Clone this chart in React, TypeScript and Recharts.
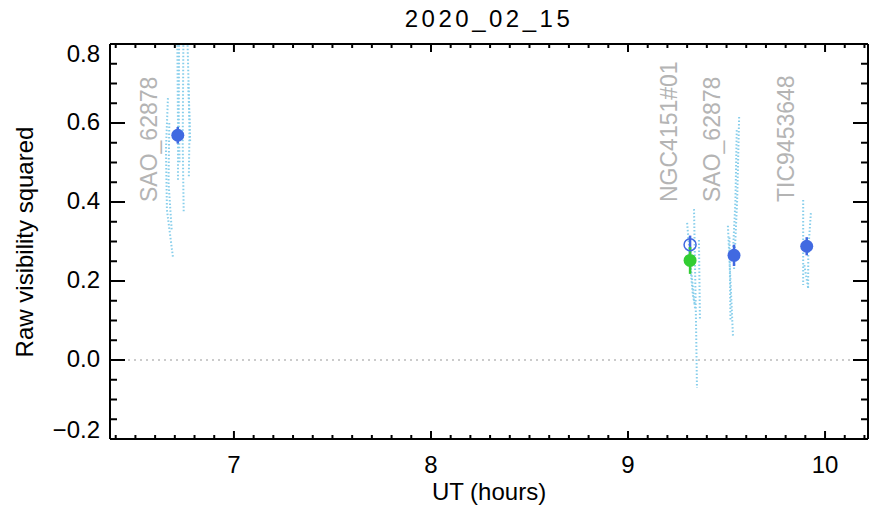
import { ComposedChart, XAxis, YAxis, Line, Scatter, ErrorBar, ReferenceLine } from "recharts";

// night of 2020_02_15, raw V^2 per observation block
const calibrators = [
  { x: 6.715, y: 0.569, err: 0.021 },
  { x: 9.538, y: 0.265, err: 0.027 },
  { x: 9.907, y: 0.288, err: 0.023 },
];
const targetRaw = [{ x: 9.315, y: 0.292, err: 0.023 }];
const targetCal = [{ x: 9.315, y: 0.252, err: 0.034 }];

const starNames = [
  { x: 6.61, y: 0.4, name: "SAO_62878" },
  { x: 9.249, y: 0.4, name: "NGC4151#01" },
  { x: 9.467, y: 0.4, name: "SAO_62878" },
  { x: 9.843, y: 0.4, name: "TIC9453648" },
];

// per-frame V^2 traces (dotted)
const frameTraces = [
  [{ x: 6.665, y: 0.663 }, { x: 6.655, y: 0.532 }, { x: 6.66, y: 0.38 }, { x: 6.691, y: 0.258 }],
  [{ x: 6.672, y: 0.6 }, { x: 6.668, y: 0.45 }, { x: 6.684, y: 0.33 }],
  [{ x: 6.712, y: 0.85 }, { x: 6.716, y: 0.6 }, { x: 6.716, y: 0.455 }],
  [{ x: 6.722, y: 0.85 }, { x: 6.72, y: 0.62 }, { x: 6.724, y: 0.5 }],
  [{ x: 6.744, y: 0.85 }, { x: 6.74, y: 0.55 }, { x: 6.745, y: 0.375 }],
  [{ x: 6.762, y: 0.85 }, { x: 6.775, y: 0.6 }, { x: 6.771, y: 0.46 }],
  [{ x: 6.768, y: 0.7 }, { x: 6.778, y: 0.55 }],
  [{ x: 9.335, y: 0.382 }, { x: 9.345, y: 0.1 }, { x: 9.35, y: -0.071 }],
  [{ x: 9.3, y: 0.347 }, { x: 9.318, y: 0.24 }, { x: 9.341, y: 0.127 }],
  [{ x: 9.36, y: 0.304 }, { x: 9.365, y: 0.101 }],
  [{ x: 9.31, y: 0.27 }, { x: 9.33, y: 0.16 }, { x: 9.34, y: 0.14 }],
  [{ x: 9.564, y: 0.615 }, { x: 9.554, y: 0.405 }, { x: 9.538, y: 0.228 }],
  [{ x: 9.552, y: 0.582 }, { x: 9.545, y: 0.4 }, { x: 9.533, y: 0.278 }],
  [{ x: 9.507, y: 0.34 }, { x: 9.52, y: 0.2 }, { x: 9.533, y: 0.058 }],
  [{ x: 9.515, y: 0.31 }, { x: 9.52, y: 0.1 }],
  [{ x: 9.889, y: 0.405 }, { x: 9.889, y: 0.19 }],
  [{ x: 9.928, y: 0.372 }, { x: 9.915, y: 0.278 }, { x: 9.914, y: 0.177 }],
  [{ x: 9.895, y: 0.24 }, { x: 9.915, y: 0.18 }],
];

const xMajor = [7, 8, 9, 10];
const yMajor = [-0.2, 0, 0.2, 0.4, 0.6, 0.8];
const xTicks = Array.from({ length: 39 }, (_, i) => +(6.4 + i * 0.1).toFixed(1));
const yTicks = Array.from({ length: 21 }, (_, i) => +(-0.2 + i * 0.05).toFixed(2));

const FONT = "'Liberation Sans', Arial, sans-serif";
const BLUE = "#4169e1";
const GREEN = "#32cd32";
const TRACE = "#87ceeb";

// plot box size, so the bottom/left ticks can mirror themselves on the top/right edge
const PLOT_W = 758;
const PLOT_H = 395;

const isMajorY = (v: number) => yMajor.some((m) => Math.abs(m - v) < 1e-6);
const fmtY = (v: number) => (v < 0 ? "\u2212" : "") + Math.abs(v).toFixed(1);

function BottomTick({ x, y, payload }: any) {
  const major = xMajor.includes(payload.value);
  const len = major ? 8 : 4;
  const top = y - PLOT_H;
  return (
    <g>
      <line x1={x} x2={x} y1={y} y2={y - len} stroke="#000" strokeWidth={2} />
      <line x1={x} x2={x} y1={top} y2={top + len} stroke="#000" strokeWidth={2} />
      {major && (
        <text x={x} y={y + 34} textAnchor="middle" fontFamily={FONT} fontSize={24} fill="#000">
          {payload.value}
        </text>
      )}
    </g>
  );
}

function LeftTick({ x, y, payload }: any) {
  const major = isMajorY(payload.value);
  const len = major ? 15 : 7;
  const right = x + PLOT_W;
  const ty = Math.min(438, Math.max(62, y + 7));
  return (
    <g>
      <line x1={x} x2={x + len} y1={y} y2={y} stroke="#000" strokeWidth={2} />
      <line x1={right} x2={right - len} y1={y} y2={y} stroke="#000" strokeWidth={2} />
      {major && (
        <text x={x - 10} y={ty} textAnchor="end" fontFamily={FONT} fontSize={24} fill="#000">
          {fmtY(payload.value)}
        </text>
      )}
    </g>
  );
}

const dotShape = (fill: string) => (p: any) => <circle cx={p.cx} cy={p.cy} r={6.5} fill={fill} />;
const ringShape = (p: any) => <circle cx={p.cx} cy={p.cy} r={6} fill="none" stroke={BLUE} strokeWidth={1.5} />;
const nameShape = (p: any) => (
  <text
    x={p.cx}
    y={p.cy}
    transform={`rotate(-90 ${p.cx} ${p.cy})`}
    fontFamily={FONT}
    fontSize={23}
    fill="#b4b4b4"
  >
    {p.payload.name}
  </text>
);

const axisLine = { stroke: "#000", strokeWidth: 2 };

export default function App() {
  return (
    <div style={{ position: "absolute", left: 0, top: 0 }}>
      <ComposedChart width={870} height={508} margin={{ top: 43, right: 0, bottom: 0, left: 0 }}>
        <XAxis
          dataKey="x"
          type="number"
          domain={[6.371, 10.218]}
          allowDataOverflow
          ticks={xTicks}
          interval={0}
          tick={<BottomTick />}
          tickLine={false}
          tickSize={0}
          tickMargin={0}
          axisLine={axisLine}
          height={69}
          label={{
            content: () => (
              <g>
                <text x={489} y={500} textAnchor="middle" fontFamily={FONT} fontSize={24} fill="#000">
                  UT (hours)
                </text>
                <text
                  x={489}
                  y={27}
                  textAnchor="middle"
                  fontFamily={FONT}
                  fontSize={24}
                  letterSpacing={3.5}
                  fill="#000"
                >
                  2020_02_15
                </text>
              </g>
            ),
          }}
        />
        <XAxis
          xAxisId="t"
          dataKey="x"
          type="number"
          orientation="top"
          domain={[6.371, 10.218]}
          allowDataOverflow
          tick={false}
          tickLine={false}
          axisLine={axisLine}
          height={1}
        />
        <YAxis
          type="number"
          domain={[-0.2, 0.8]}
          allowDataOverflow
          ticks={yTicks}
          interval={0}
          tick={<LeftTick />}
          tickLine={false}
          tickSize={0}
          tickMargin={0}
          axisLine={axisLine}
          width={110}
          label={{
            content: () => (
              <text
                x={33}
                y={242}
                transform="rotate(-90 33 242)"
                textAnchor="middle"
                fontFamily={FONT}
                fontSize={24}
                fill="#000"
              >
                Raw visibility squared
              </text>
            ),
          }}
        />
        <YAxis
          yAxisId="r"
          type="number"
          orientation="right"
          domain={[-0.2, 0.8]}
          allowDataOverflow
          tick={false}
          tickLine={false}
          axisLine={axisLine}
          width={2}
        />
        <ReferenceLine y={0} stroke="#bbb" strokeWidth={1.5} strokeDasharray="2 4" />
        {frameTraces.map((t, i) => (
          <Line
            key={i}
            data={t}
            dataKey="y"
            type="linear"
            stroke={TRACE}
            strokeWidth={2}
            strokeDasharray="1.5 2"
            dot={false}
            activeDot={false}
            isAnimationActive={false}
          />
        ))}
        <Scatter
          data={starNames}
          dataKey="y"
          xAxisId="t"
          yAxisId="r"
          shape={nameShape}
          isAnimationActive={false}
        />
        <Scatter data={targetRaw} dataKey="y" shape={ringShape} isAnimationActive={false}>
          <ErrorBar dataKey="err" direction="y" width={0} stroke={BLUE} strokeWidth={2.5} />
        </Scatter>
        <Scatter data={targetCal} dataKey="y" shape={dotShape(GREEN)} isAnimationActive={false}>
          <ErrorBar dataKey="err" direction="y" width={0} stroke={GREEN} strokeWidth={2.5} />
        </Scatter>
        <Scatter data={calibrators} dataKey="y" shape={dotShape(BLUE)} isAnimationActive={false}>
          <ErrorBar dataKey="err" direction="y" width={0} stroke={BLUE} strokeWidth={2.5} />
        </Scatter>
      </ComposedChart>
    </div>
  );
}
